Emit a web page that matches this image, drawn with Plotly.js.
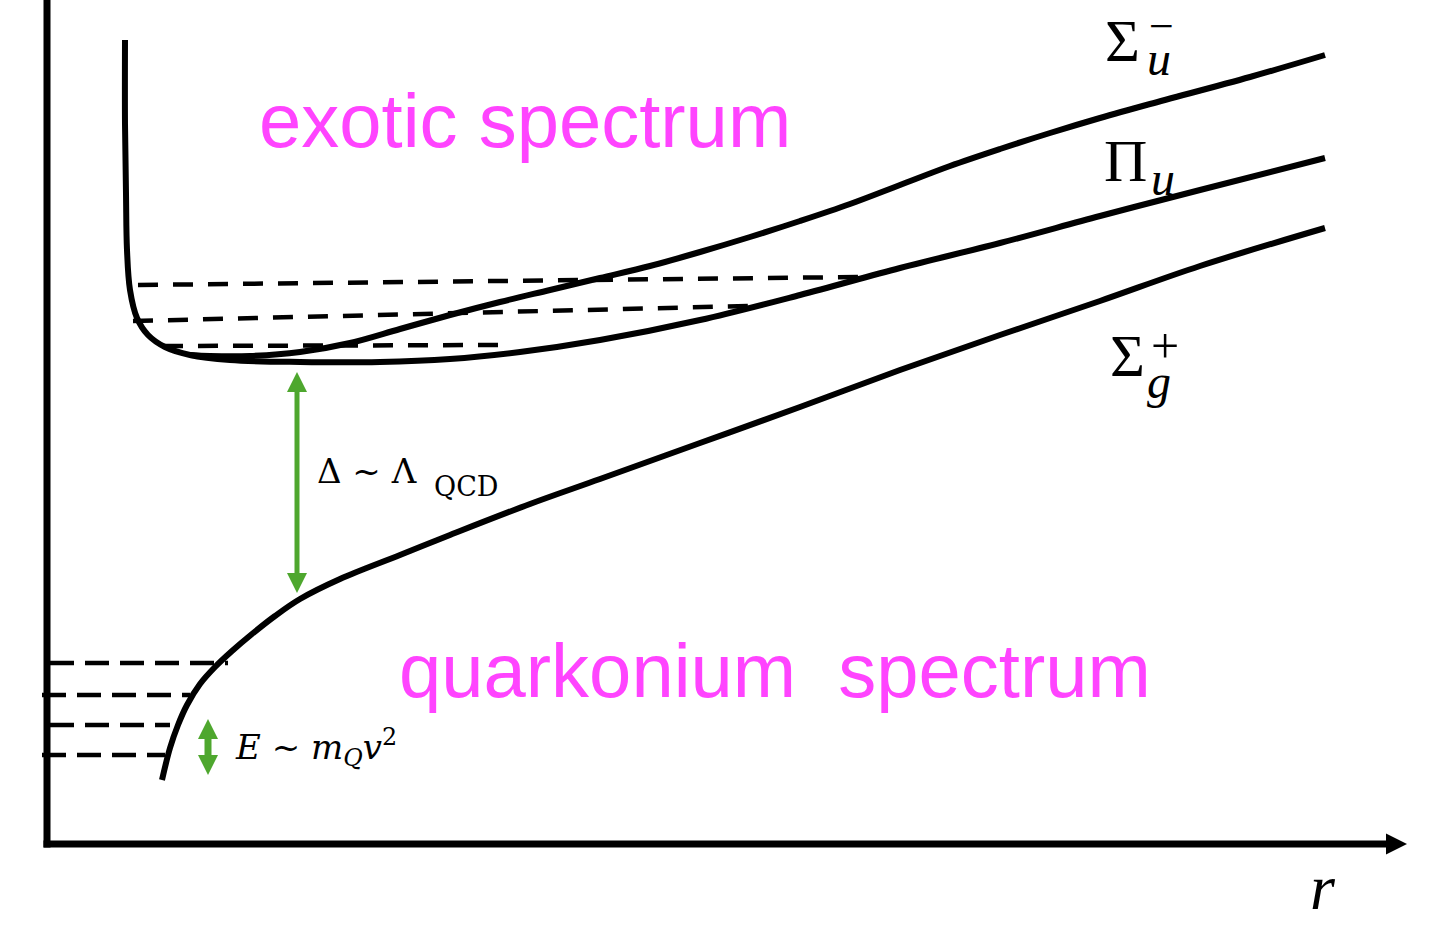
<!DOCTYPE html>
<html>
<head>
<meta charset="utf-8">
<script src="https://cdn.plot.ly/plotly-3.0.1.min.js"></script>
<style>
  html, body { margin: 0; padding: 0; background: #ffffff; }
  #chart { width: 1435px; height: 925px; }
</style>
</head>
<body>
<div id="chart"></div>
<script>
// Static energies of a heavy quark pair as a function of the separation r.
// r runs along the horizontal axis, the energy V up the vertical one;
// both start at the corner where the two axes meet.

// Pi_u hybrid curve (also carries the steep repulsive branch at small r)
const piU_r = [78, 78, 79, 80, 83, 90, 101, 118, 143, 183, 253, 333, 403, 473, 553, 653, 753, 853, 953, 1053, 1153, 1278];
const piU_V = [804, 720, 650, 594, 554, 526, 509, 497, 489, 484, 482, 482, 485, 492, 504, 524, 549, 576, 601, 628, 654, 686];

// Sigma_u^- hybrid curve, branching off the Pi_u curve near its minimum
const sigU_r = [143, 163, 203, 253, 303, 353, 403, 453, 503, 553, 603, 653, 703, 753, 803, 853, 903, 953, 1003, 1053, 1103, 1203, 1278];
const sigU_V = [489, 488, 488, 492, 501, 515, 529, 542, 554, 566, 578, 592, 607, 623, 640, 659, 678, 695, 711, 726, 740, 767, 789];

// Sigma_g^+ ground-state (quarkonium) curve
const sigG_r = [115, 123, 131, 140, 153, 168, 185, 205, 228, 253, 293, 353, 403, 483, 553, 653, 753, 853, 953, 1053, 1153, 1278];
const sigG_V = [64, 96, 119, 139, 160, 177, 193, 210, 228, 245, 265, 289, 309, 340, 365, 401, 437, 474, 509, 543, 578, 616];

// Hybrid levels (start r, end r, energy at start, energy at end)
const hybridLevelR0 = [91, 86, 116];
const hybridLevelR1 = [811, 701, 455];
const hybridLevelV0 = [559, 523, 498];
const hybridLevelV1 = [567, 538, 499];

// Quarkonium levels
const quarkoniumLevelR0 = [3, -5, 3, -5];
const quarkoniumLevelR1 = [181, 143, 123, 118];
const quarkoniumLevelV = [181, 149, 119, 89];

// Energy gaps marked with double arrows: position in r, upper and lower energy
const gapR = [250, 161];
const gapTop = [472, 125];
const gapBottom = [251, 69];

// Axis extents
const axisRMax = 1360;
const axisVMax = 844;

const BLACK = '#000000';
const GREEN = '#4ea72e';
const MAGENTA = '#ff44ff';

const traces = [];

// axes
traces.push({
  x: [0, 0], y: [-3.5, axisVMax + 10], mode: 'lines',
  line: { color: BLACK, width: 7 }, hoverinfo: 'skip'
});
traces.push({
  x: [-3.5, axisRMax - 18], y: [0, 0], mode: 'lines',
  line: { color: BLACK, width: 7 }, hoverinfo: 'skip'
});
traces.push({
  x: [axisRMax], y: [0], mode: 'markers',
  marker: { symbol: 'arrow-right', size: 21, color: BLACK, line: { width: 0 } },
  hoverinfo: 'skip'
});

// hybrid levels
hybridLevelR0.forEach((r0, i) => {
  traces.push({
    x: [r0, hybridLevelR1[i]], y: [hybridLevelV0[i], hybridLevelV1[i]], mode: 'lines',
    line: { color: BLACK, width: 4.5, dash: '20px,15px' }, hoverinfo: 'skip'
  });
});

// quarkonium levels
quarkoniumLevelR0.forEach((r0, i) => {
  traces.push({
    x: [r0, quarkoniumLevelR1[i]], y: [quarkoniumLevelV[i], quarkoniumLevelV[i]], mode: 'lines',
    line: { color: BLACK, width: 4.5, dash: '24px,11px' }, hoverinfo: 'skip'
  });
});

// potential curves
[[piU_r, piU_V], [sigU_r, sigU_V], [sigG_r, sigG_V]].forEach(([r, v]) => {
  traces.push({
    x: r, y: v, mode: 'lines',
    line: { color: BLACK, width: 6, shape: 'spline', smoothing: 1 },
    hoverinfo: 'skip'
  });
});

// double arrows for the energy gaps
const shaftWidths = [5, 7];
const headSizes = [20, 20];
gapR.forEach((r, i) => {
  const h = headSizes[i];
  traces.push({
    x: [r, r], y: [gapTop[i] - h + 2, gapBottom[i] + h - 2], mode: 'lines',
    line: { color: GREEN, width: shaftWidths[i] }, hoverinfo: 'skip'
  });
  traces.push({
    x: [r, r], y: [gapTop[i], gapBottom[i]], mode: 'markers',
    marker: { symbol: ['arrow-up', 'arrow-down'], size: h, color: GREEN, line: { width: 0 } },
    hoverinfo: 'skip'
  });
});

const serif = 'Liberation Serif, Times New Roman, serif';
const mathSerif = 'DejaVu Serif, serif';
const sans = 'Liberation Sans, Arial, Helvetica, sans-serif';

function label(text, x, y, size, family, color, xanchor, yanchor) {
  return {
    text: text, x: x, y: y, xref: 'x', yref: 'y',
    showarrow: false, xanchor: xanchor || 'center', yanchor: yanchor || 'middle',
    font: { family: family, size: size, color: color || BLACK }
  };
}

const annotations = [
  label('exotic spectrum', 478, 724, 76, sans, MAGENTA),
  label('quarkonium\u00a0 spectrum', 728, 174, 76, sans, MAGENTA),

  // curve names
  label('Σ', 1075, 803, 60, serif),
  label('\u2212', 1114, 818, 44, serif),
  label('<i>u</i>', 1112, 786, 48, serif),

  label('Π', 1078, 683, 60, serif),
  label('<i>u</i>', 1116, 666, 48, serif),

  label('Σ', 1080, 488, 60, serif),
  label('+', 1118, 498, 50, serif),
  label('<i>g</i>', 1112, 463, 48, serif),

  // gap between the hybrid and quarkonium curves
  label('Δ ~ Λ', 268, 373, 34, mathSerif, BLACK, 'left'),
  label('QCD', 385, 358, 27, mathSerif, BLACK, 'left'),

  // quarkonium level spacing
  label('<i>E</i> ~ <i>m</i><sub><i>Q</i></sub><i>v</i><sup>2</sup>', 186, 97, 34, mathSerif, BLACK, 'left'),

  // horizontal axis name, resting on the bottom edge
  label('<i>r</i>', 1276, -81, 64, serif, BLACK, 'center', 'bottom')
];

const layout = {
  width: 1435, height: 925,
  margin: { l: 0, r: 0, t: 0, b: 0, pad: 0 },
  paper_bgcolor: '#ffffff', plot_bgcolor: '#ffffff',
  showlegend: false,
  xaxis: { range: [-47, 1388], visible: false, fixedrange: true },
  yaxis: { range: [-81, 844], visible: false, fixedrange: true },
  annotations: annotations
};

Plotly.newPlot('chart', traces, layout, { staticPlot: true, displayModeBar: false });
</script>
</body>
</html>
